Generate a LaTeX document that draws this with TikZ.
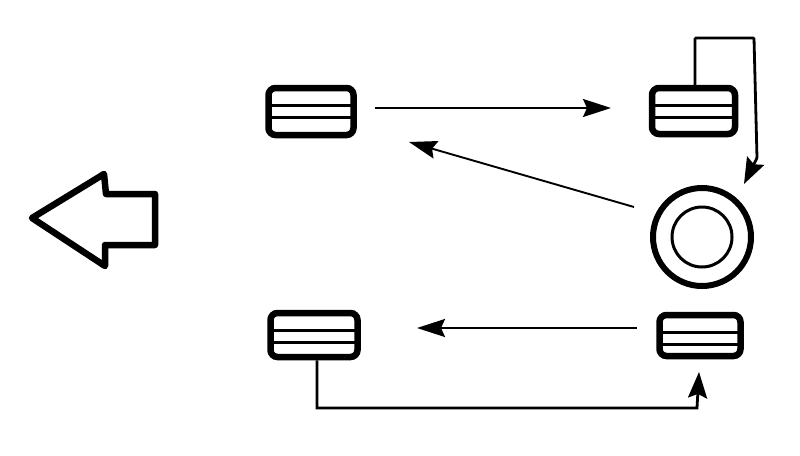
\documentclass[tikz,border=0pt]{standalone}
\usetikzlibrary{arrows.meta}
\tikzstyle{tyre} = [rectangle, rounded corners=7pt, line width=6.5pt, draw=black, inner sep=0pt, path picture={
    \draw [line width=3pt] ([yshift=-17pt]path picture bounding box.north west) -- ([yshift=-17pt]path picture bounding box.north east);
    \draw [line width=3pt] ([yshift=-29pt]path picture bounding box.north west) -- ([yshift=-29pt]path picture bounding box.north east);
}]
\tikzstyle{ring} = [circle, draw=black, inner sep=0pt]
\tikzstyle{arrow} = [line width=1.9pt,-{Stealth[length=28pt,width=18pt,inset=4pt]}]
\tikzstyle{link} = [line width=2.8pt,-{Stealth[length=26pt,width=19pt,inset=4pt]}]
\begin{document}
\begin{tikzpicture}[x=1pt,y=-1pt]

    \useasboundingbox (0,0) rectangle (800,455);

    \node (frontleft) [tyre, minimum width=85pt, minimum height=47pt] at (311,111.5) {};
    \node (frontright) [tyre, minimum width=83pt, minimum height=46pt] at (693.5,111) {};
    \node (rearleft) [tyre, minimum width=87pt, minimum height=44pt] at (314,335) {};
    \node (rearright) [tyre, minimum width=81pt, minimum height=41pt] at (700,335.5) {};

    \node (spare) [ring, line width=6pt, minimum size=98pt] at (702,237) {};
    \node (hub) [ring, line width=3pt, minimum size=60pt] at (702,237) {};

    % direction of travel
    \draw [line width=6.5pt, line join=round] (32,218) -- (104,174) -- (106,194) -- (155,194) -- (155,245) -- (105,245) -- (105,266) -- cycle;

    \coordinate (a1) at (375,108);
    \coordinate (a2) at (611,108);
    \coordinate (b1) at (634,207);
    \coordinate (b2) at (409,142);
    \coordinate (c1) at (637,328);
    \coordinate (c2) at (417,328);

    \draw [arrow] (a1) -- (a2);
    \draw [arrow] (b1) -- (b2);
    \draw [arrow] (c1) -- (c2);

    \coordinate (d1) at (695,38);
    \coordinate (d2) at (754,38);
    \coordinate (d3) at (757,158);
    \coordinate (d4) at (744,184);
    \draw [link, rounded corners=1pt] (frontright.north -| d1) -- (d1) -- (d2) -- (d3) -- (d4);

    \coordinate (e1) at (317,408);
    \coordinate (e2) at (697,408);
    \coordinate (e3) at (699,372);
    \draw [link] (rearleft.south -| e1) -- (e1) -- (e2) -- (e3);

\end{tikzpicture}
\end{document}
